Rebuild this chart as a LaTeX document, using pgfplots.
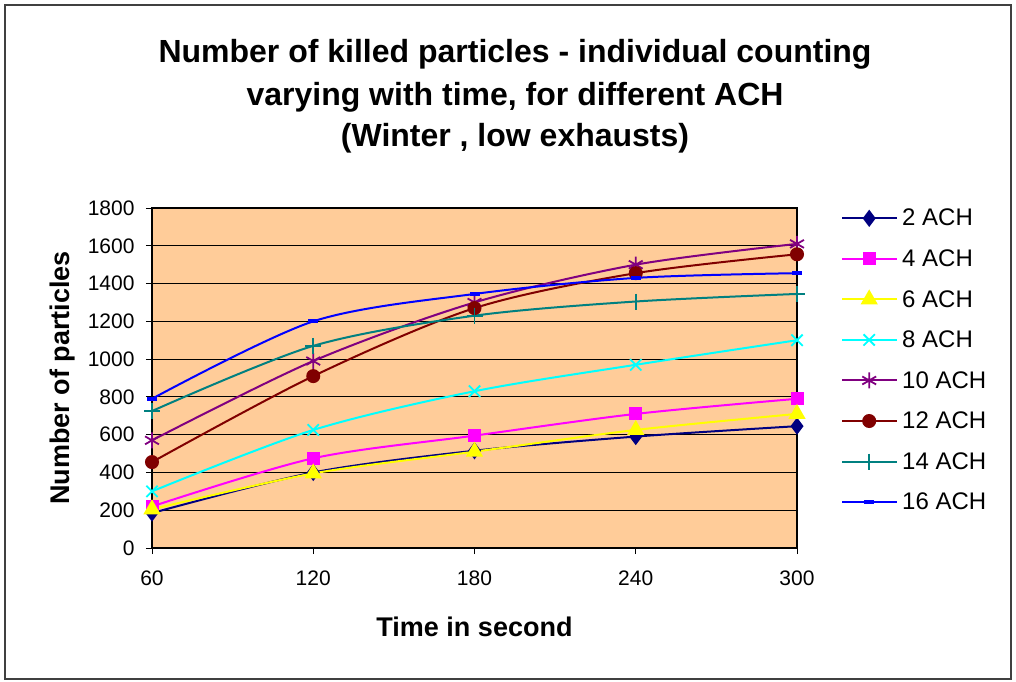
\documentclass[border=0pt]{standalone}
\usepackage{pgfplots}
\pgfplotsset{compat=1.18}
\usepackage{fontspec}
\setmainfont{Liberation Sans}
\definecolor{plotbg}{RGB}{255,204,153}
\definecolor{c2}{RGB}{0,0,128}
\definecolor{c4}{RGB}{255,0,255}
\definecolor{c6}{RGB}{255,255,0}
\definecolor{c8}{RGB}{0,255,255}
\definecolor{c10}{RGB}{128,0,128}
\definecolor{c12}{RGB}{128,0,0}
\definecolor{c14}{RGB}{0,128,128}
\definecolor{c16}{RGB}{0,0,255}
\begin{document}
\begin{tikzpicture}
\path[use as bounding box] (0,0) rectangle (1016bp,-682bp);
\draw[line width=1.2bp, black!75] (5bp,-5bp) rectangle (1011bp,-679bp);
\node[font=\fontsize{32bp}{36bp}\selectfont\bfseries] at (515bp,-54bp) {Number of killed particles - individual counting};
\node[font=\fontsize{32bp}{36bp}\selectfont\bfseries] at (515bp,-97bp) {varying with time, for different ACH};
\node[font=\fontsize{32bp}{36bp}\selectfont\bfseries] at (515bp,-138bp) {(Winter , low exhausts)};
\begin{axis}[
  at={(152bp,-548bp)}, anchor=south west,
  width=645bp, height=340bp, scale only axis,
  xmin=60, xmax=300, ymin=0, ymax=1800,
  xtick={60,120,180,240,300},
  ytick={0,200,...,1800},
  axis background/.style={fill=plotbg},
  axis line style={line width=2.5bp, black},
  ymajorgrids, grid style={black, line width=0.8bp},
  tick style={black, line width=1bp},
  xtick pos=bottom, ytick pos=left,
  tick align=outside, major tick length=6bp,
  /pgf/number format/assume math mode=true,
  /pgf/number format/set thousands separator={},
  tick label style={font=\fontsize{21bp}{24bp}\selectfont},
  xticklabel style={yshift=-13bp},
  yticklabel style={xshift=-8bp},
  xlabel={Time in second}, ylabel={Number of particles},
  every axis x label/.style={at={(axis description cs:0.5,0)}, anchor=center, yshift=-79bp, font=\fontsize{27bp}{30bp}\selectfont\bfseries},
  every axis y label/.style={at={(axis description cs:-0.1395,0.5)}, rotate=90, anchor=center, font=\fontsize{27bp}{30bp}\selectfont\bfseries},
  legend style={at={(1,1)}, anchor=north west, xshift=44bp, yshift=1bp, draw=none, fill=none, font=\fontsize{24bp}{28bp}\selectfont, row sep=18.3bp, inner sep=0pt, nodes={inner xsep=4bp}},
  legend cell align=left,
  legend image code/.code={\draw[mark repeat=2,mark phase=2] plot coordinates {(0bp,0bp) (27bp,0bp) (55bp,0bp)};},
  every axis plot/.append style={line width=2bp, smooth},
]
\addplot[c2, mark=diamond*, mark size=7bp, mark options={solid}] coordinates {(60,185) (120,400) (180,515) (240,590) (300,645)};
\addlegendentry{2 ACH}
\addplot[c4, mark=square*, mark size=5.5bp] coordinates {(60,220) (120,475) (180,595) (240,710) (300,790)};
\addlegendentry{4 ACH}
\addplot[c6, mark=triangle*, mark size=8bp] coordinates {(60,205) (120,395) (180,510) (240,625) (300,710)};
\addlegendentry{6 ACH}
\addplot[c8, mark=x, mark size=8bp, mark options={line width=1.8bp}] coordinates {(60,300) (120,625) (180,830) (240,970) (300,1100)};
\addlegendentry{8 ACH}
\addplot[c10, mark=asterisk, mark size=8bp, mark options={line width=1.8bp}] coordinates {(60,570) (120,990) (180,1300) (240,1500) (300,1610)};
\addlegendentry{10 ACH}
\addplot[c12, mark=*, mark size=6bp] coordinates {(60,455) (120,910) (180,1270) (240,1455) (300,1555)};
\addlegendentry{12 ACH}
\addplot[c14, mark=+, mark size=8bp, mark options={line width=1.8bp}] coordinates {(60,725) (120,1070) (180,1230) (240,1305) (300,1345)};
\addlegendentry{14 ACH}
\addplot[c16, mark=-, mark size=5bp, mark options={line width=4bp}] coordinates {(60,790) (120,1200) (180,1345) (240,1430) (300,1455)};
\addlegendentry{16 ACH}
\end{axis}
\end{tikzpicture}
\end{document}
